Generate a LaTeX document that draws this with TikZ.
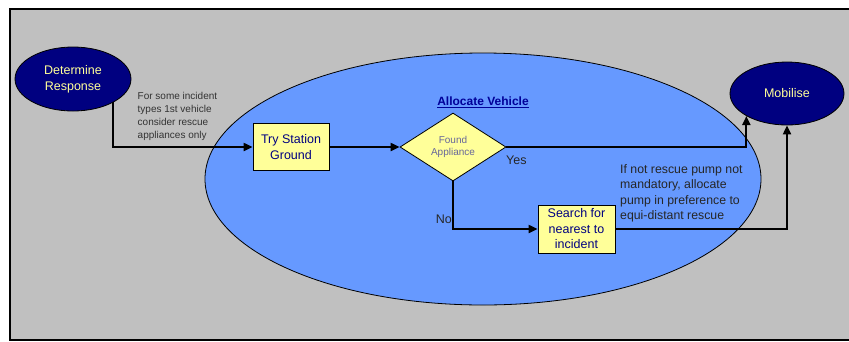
\documentclass[tikz,border=0pt]{standalone}
\usepackage{fontspec}
\setmainfont{Liberation Sans}
\usetikzlibrary{shapes.geometric,arrows.meta}
\definecolor{bggray}{RGB}{192,192,192}
\definecolor{poolblue}{RGB}{102,153,255}
\definecolor{navy}{RGB}{0,0,128}
\definecolor{paleyellow}{RGB}{255,255,153}
\definecolor{labelblue}{RGB}{0,0,153}
\definecolor{dimtext}{RGB}{102,102,153}
\definecolor{notetext}{RGB}{51,51,51}

\tikzset{
  terminal/.style={ellipse, draw=black, line width=0.8pt, fill=navy, text=paleyellow,
    inner sep=0pt, align=center, font=\fontsize{12.5}{16}\selectfont},
  taskbox/.style={rectangle, draw=black, line width=0.8pt, fill=paleyellow, text=navy,
    inner sep=0pt, align=center, font=\fontsize{12.5}{15.5}\selectfont},
  decision/.style={diamond, draw=black, line width=0.8pt, fill=paleyellow, text=dimtext,
    inner sep=0pt, aspect=1.56, align=center, font=\fontsize{10}{12.5}\selectfont},
  pool/.style={ellipse, draw=black, line width=0.8pt, fill=poolblue, inner sep=0pt},
  flow/.style={line width=2pt, -{Triangle[length=9pt,width=8pt]}},
  note/.style={inner sep=0pt, align=left, anchor=north west, text=notetext},
  branch/.style={inner sep=0pt, font=\fontsize{12.5}{15}\selectfont, text=black!85}
}

\begin{document}
\begin{tikzpicture}[x=1pt,y=-1pt]
  \useasboundingbox (0,0) rectangle (849,341);

  % canvas
  \draw[line width=2pt, fill=bggray] (10,9) rectangle (853,340);

  % allocation area
  \node[pool, minimum width=556pt, minimum height=252pt] (area) at (483,179) {};
  \node[inner sep=0pt, text=labelblue, font=\fontsize{12}{14}\selectfont\bfseries]
    (areatitle) at (483,102) {\underline{Allocate Vehicle}};

  % start / end
  \node[terminal, minimum width=116pt, minimum height=64pt] (det) at (73,79)
    {Determine\\Response};
  \node[terminal, minimum width=114pt, minimum height=63pt] (mob) at (787,93.5)
    {Mobilise};

  % process steps
  \node[taskbox, minimum width=76pt, minimum height=47pt] (try) at (291,147)
    {Try Station\\Ground};
  \node[decision, minimum width=106pt, minimum height=68pt] (dia) at (453,147)
    {Found\\Appliance};
  \node[taskbox, minimum width=77pt, minimum height=48pt] (search) at (576.5,229)
    {Search for\\nearest to\\incident};

  % connectors
  \draw[flow] (det.330) |- (try.west);
  \draw[flow] (try.east) -- (dia.west);
  \draw[flow] (dia.east) -| (mob.209);
  \draw[flow] (dia.south) |- (search.west);
  \draw[flow] (search.east) -| (mob.south);

  % branch labels
  \node[branch, anchor=north west] (yes) at (506,156) {Yes};
  \node[branch, anchor=east] (no) at (452,219.5) {No};

  % notes
  \node[note, font=\fontsize{10}{13}\selectfont] (note1) at (137.5,92.5)
    {For some incident\\types 1st vehicle\\consider rescue\\appliances only};
  \node[note, font=\fontsize{12.3}{15.6}\selectfont, text=black!85] (note2) at (620,164)
    {If not rescue pump not\\mandatory, allocate\\pump in preference to\\equi-distant rescue};
\end{tikzpicture}
\end{document}
